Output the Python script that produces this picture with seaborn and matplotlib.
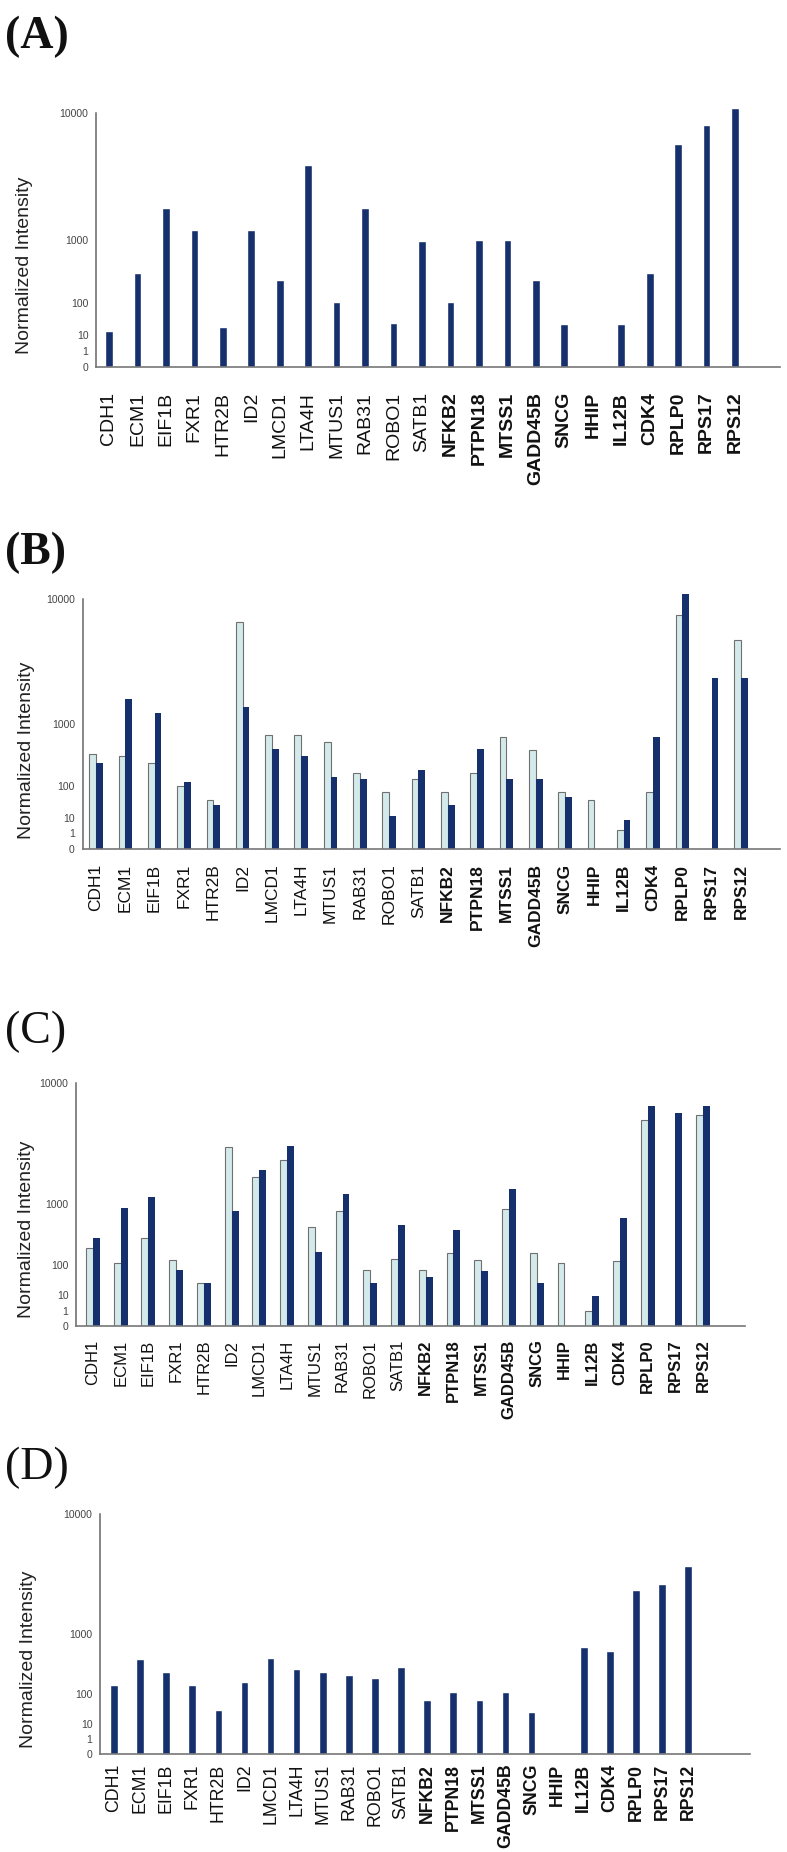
import numpy as np
import pandas as pd
import seaborn as sns
import matplotlib.pyplot as plt

genes = ["CDH1", "ECM1", "EIF1B", "FXR1", "HTR2B", "ID2", "LMCD1", "LTA4H",
         "MTUS1", "RAB31", "ROBO1", "SATB1", "NFKB2", "PTPN18", "MTSS1",
         "GADD45B", "SNCG", "HHIP", "IL12B", "CDK4", "RPLP0", "RPS17", "RPS12"]

# panel A (single series)
a_vals = [15, 365, 2100, 1300, 22, 1300, 285, 4650, 110, 2100, 29, 985,
          110, 1010, 1010, 285, 26, 0, 26, 365, 6500, 8500, 10700]

# panel B (light / dark)
b_light = [396, 378, 291, 102, 44, 7280, 736, 736, 601, 188, 75, 143,
           72, 188, 687, 460, 75, 44, 1.8, 75, 8050, 0, 5560]
b_dark = [291, 1824, 1313, 127, 31, 1542, 476, 378, 161, 147, 11.7, 217,
          31, 476, 143, 147, 55, 0, 7.3, 687, 10770, 2820, 2820]

# panel C (light / dark)
c_light = [224, 109, 336, 130, 30, 3640, 1977, 2810, 498, 830, 75, 137,
           75, 185, 130, 878, 185, 109, 0.9, 126, 5810, 0, 6250]
c_dark = [336, 895, 1205, 75, 30, 830, 2286, 3690, 191, 1312, 30, 544,
          48, 454, 71, 1497, 30, 0, 9.3, 679, 7220, 6490, 7220]

# panel D (single series)
d_vals = [158, 464, 288, 158, 37, 185, 480, 321, 288, 248, 218, 351,
          72, 112, 72, 112, 30, 0, 689, 600, 2826, 3220, 4500]

ytick_vals = [0, 1, 10, 100, 1000, 10000]
ytick_labels = ["0", "1", "10", "100", "1000", "10000"]

NAVY = "#15306d"
LIGHT = "#d4eaea"

sns.set_style("white")
plt.rcParams["font.family"] = ["Liberation Sans", "DejaVu Sans"]

# axis spacing doubles every decade: y ~ x ** log10(2)
P = np.log10(2)


def fwd(v):
    v = np.asarray(v, dtype=float)
    return np.sign(v) * np.abs(v) ** P


def inv(v):
    v = np.asarray(v, dtype=float)
    return np.sign(v) * np.abs(v) ** (1 / P)


W, H = 787, 1852
fig = plt.figure(figsize=(W / 100, H / 100), dpi=100)


def make_ax(left, right, zero, top):
    return fig.add_axes([left / W, (H - zero) / H, (right - left) / W, (zero - top) / H])


def style(ax, xlim, pad, lsize, lab_x, lab_y):
    ax.set_yscale("function", functions=(fwd, inv))
    ax.set_ylim(0, 11500)
    ax.set_xlim(*xlim)
    ax.set_yticks(ytick_vals)
    ax.set_yticklabels(ytick_labels)
    ax.set_xlabel("")
    ax.set_ylabel("Normalized Intensity", fontsize=14, color="#222222")
    ax.yaxis.set_label_coords(lab_x, lab_y)
    for s in ["top", "right"]:
        ax.spines[s].set_visible(False)
    ax.spines["left"].set_bounds(0, 10000)
    ax.spines["left"].set_color("#666666")
    ax.spines["bottom"].set_color("#777777")
    ax.spines["left"].set_linewidth(1.1)
    ax.spines["bottom"].set_linewidth(1.2)
    ax.tick_params(axis="y", length=3.5, width=1, color="#666666",
                   labelsize=7.5, labelcolor="#444444", pad=2)
    ax.tick_params(axis="x", length=0, pad=pad, labelsize=lsize,
                   labelrotation=90, labelcolor="#111111")
    for i, lab in enumerate(ax.get_xticklabels()):
        if i >= 12:
            lab.set_fontweight("bold")


def paired(ax, light, dark, width):
    df = pd.DataFrame({
        "gene": genes * 2,
        "value": light + dark,
        "series": ["light"] * len(genes) + ["dark"] * len(genes),
    })
    sns.barplot(data=df, x="gene", y="value", hue="series", order=genes,
                hue_order=["light", "dark"],
                palette={"light": LIGHT, "dark": NAVY},
                width=width, saturation=1, errorbar=None, legend=False, ax=ax)
    for bar in ax.containers[0]:
        bar.set_edgecolor("#707070")
        bar.set_linewidth(0.8)
    for bar in ax.containers[1]:
        bar.set_linewidth(0)


# (A)
ax = make_ax(96, 780, 366.7, 102.4)
sns.barplot(x=genes, y=a_vals, color=NAVY, width=0.27, saturation=1, ax=ax)
style(ax, (-0.456, 23.58), 18, 14, -63 / 684, 0.383)

# (B)
ax = make_ax(82.5, 780, 848.7, 588.5)
paired(ax, b_light, b_dark, 0.46)
style(ax, (-0.46, 23.33), 10.8, 12.5, -47.5 / 697.5, 0.379)

# (C)
ax = make_ax(76, 745, 1325.7, 1072.5)
paired(ax, c_light, c_dark, 0.5)
style(ax, (-0.61, 23.51), 10, 12, -41 / 669, 0.382)

# (D)
ax = make_ax(100, 750, 1754, 1504)
sns.barplot(x=genes, y=d_vals, color=NAVY, width=0.29, saturation=1, ax=ax)
style(ax, (-0.536, 24.37), 7, 12.8, -63 / 650, 0.38)

# panel letters
letters = [("(A)", 37, "bold"), ("(B)", 553, "bold"),
           ("(C)", 1032, "normal"), ("(D)", 1468, "normal")]
for txt, yc, wt in letters:
    fig.text(5 / W, (H - yc) / H, txt, fontsize=33, fontweight=wt,
             family=["Liberation Serif", "DejaVu Serif"], va="center", ha="left",
             color="#111111")

fig.savefig("out.png", dpi=100)
